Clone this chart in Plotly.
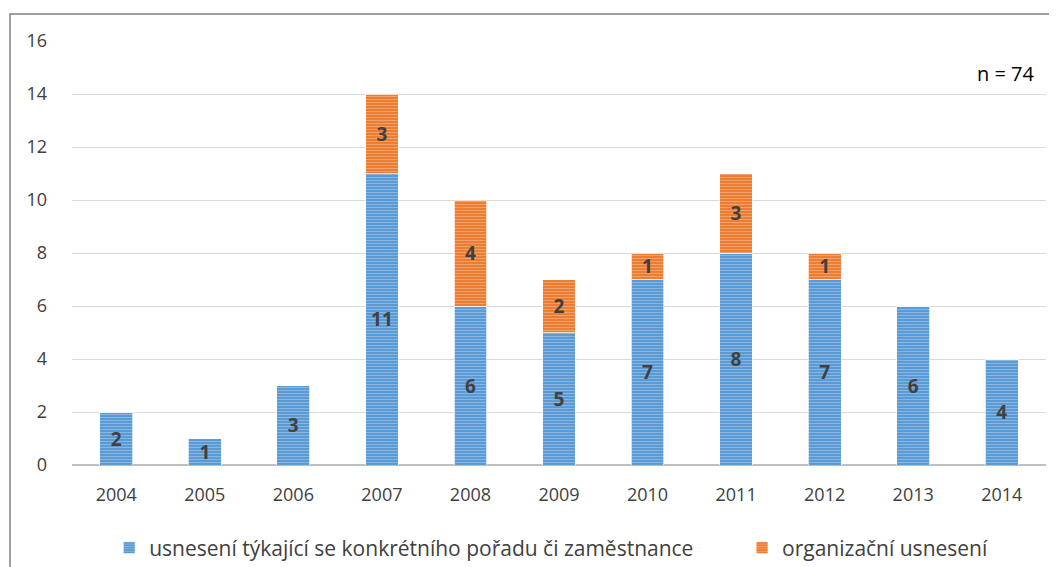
import plotly.graph_objects as go

years = ["2004", "2005", "2006", "2007", "2008", "2009", "2010", "2011", "2012", "2013", "2014"]
specific = [2, 1, 3, 11, 6, 5, 7, 8, 7, 6, 4]
organizational = [0, 0, 0, 3, 4, 2, 1, 3, 1, 0, 0]
name_specific = "usnesení týkající se konkrétního pořadu či zaměstnance"
name_org = "organizační usnesení"
y_ticks = [0, 2, 4, 6, 8, 10, 12, 14, 16]

FONT = "'Open Sans', sans-serif"
OFF = 8  # page body margin
W, H = 1057 - OFF, 567 - OFF
L, R, T, B = 72 - OFF, 11, 41 - OFF, 102
pw, ph = W - L - R, H - T - B

def lbl(v):
    return [str(x) if x else "" for x in v]

def px_x(px):
    return (px - 72) / pw

def px_y(py):
    return (465 - py) / ph

GAP = "\u00a0" * 8
fig = go.Figure()
for vals, name, col in [(specific, name_specific + GAP, "#5b9bd5"), (organizational, name_org, "#ed7d31")]:
    fig.add_trace(go.Bar(
        x=years, y=vals, name=name,
        marker=dict(color=col, line=dict(width=1, color="rgba(255,255,255,0.7)"),
                    pattern=dict(shape="-", fgcolor="rgba(255,255,255,0.55)", bgcolor=col,
                                 size=3, solidity=0.35)),
        text=lbl(vals), textposition="inside", insidetextanchor="middle", constraintext="none",
        textfont=dict(color="#404040", size=19, family=FONT, weight="bold"), textangle=0,
    ))

fig.update_layout(
    barmode="stack", bargap=0.63,
    width=W, height=H,
    margin=dict(l=L, r=R, t=T, b=B, autoexpand=False),
    paper_bgcolor="white", plot_bgcolor="white",
    font=dict(family=FONT, color="#404040", size=16),
    legend=dict(orientation="h", x=0.492, xanchor="center",
                yref="container", y=(H - (548 - OFF)) / H, yanchor="middle",
                font=dict(size=21, color="#404040"), traceorder="normal"),
    xaxis=dict(showgrid=False, ticks="", tickfont=dict(size=18, color="#404040"),
               showline=False, zeroline=False, ticklabelstandoff=17),
    yaxis=dict(range=[0, 16], tickvals=y_ticks, showgrid=True, gridcolor="#d9d9d9", gridwidth=1,
               zeroline=True, zerolinecolor="#bfbfbf", zerolinewidth=2,
               tickfont=dict(size=18, color="#404040"), ticklabelstandoff=24, showline=False),
    annotations=[dict(text="n = 74", xref="paper", yref="paper",
                      x=px_x(1037), y=px_y(73), xanchor="right", yanchor="middle",
                      showarrow=False, font=dict(size=20, color="#000000", family=FONT))],
    shapes=[dict(type="rect", xref="paper", yref="paper",
                 x0=px_x(10), x1=px_x(1065),
                 y0=px_y(575), y1=px_y(14),
                 line=dict(color="#808080", width=1.5), fillcolor="rgba(0,0,0,0)", layer="below")],
)

fig.write_html("out.html")
